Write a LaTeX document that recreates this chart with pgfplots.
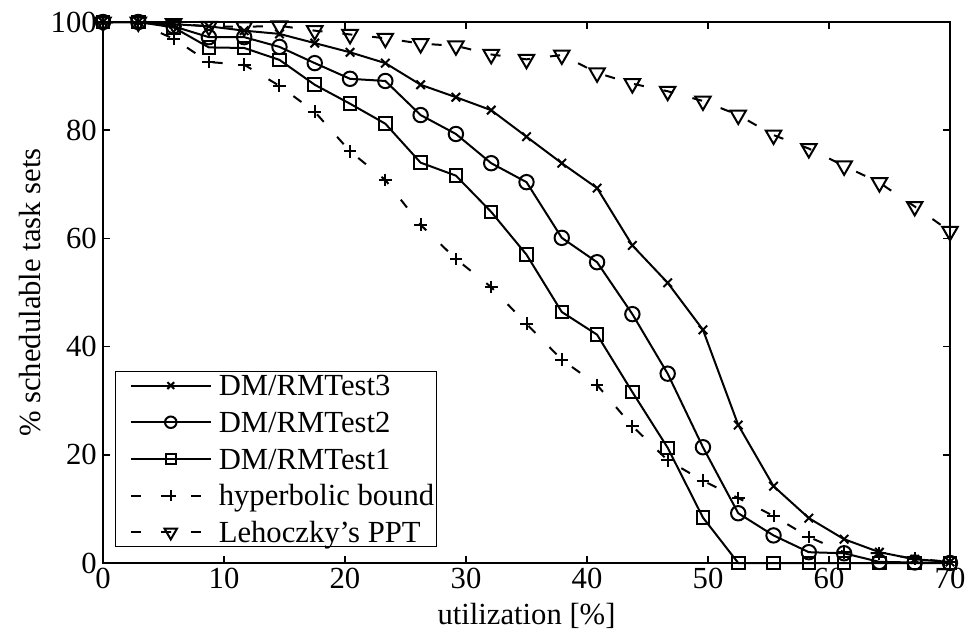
\documentclass[border=0pt]{standalone}
\usepackage{pgfplots}
\pgfplotsset{compat=1.18}
\usepackage{fontspec}
\setmainfont{Liberation Serif}
\begin{document}
\begin{tikzpicture}[font=\fontsize{23}{27.6}\selectfont]
\useasboundingbox (-77.25pt,-55.5pt) rectangle (647.25pt,422.25pt);
\begin{axis}[
  scale only axis, width=635.25pt, height=405.75pt,
  xmin=0, xmax=70, ymin=0, ymax=100,
  xtick={0,10,...,70}, ytick={0,20,...,100},
  tick align=inside, tick pos=both, major tick length=5.25pt,
  axis line style={line width=1.1pt}, every tick/.style={line width=1.1pt, black},
  /pgf/number format/assume math mode=true,
  yticklabel style={inner xsep=4.5pt},
  xlabel={utilization [\%]}, ylabel={\% schedulable task sets},
  xlabel style={at={(axis description cs:0.5,-0.098)}, anchor=center},
  ylabel style={at={(axis description cs:-0.0862,0.5)}, anchor=center},
  clip=false,
  legend cell align=left,
  legend style={at={(0.0142,0.0296)}, anchor=south west, draw=black, line width=1.1pt,
    inner xsep=1.5pt, inner ysep=1.5pt, row sep=9.5pt, column sep=5.25pt,
    nodes={inner sep=0pt, text height=16.6pt, text depth=1.4pt}},
  legend image code/.code={%
    \path[draw=none, fill=none] (0pt,0pt) (69.75pt,0pt);
    \draw[#1, mark repeat=2, mark phase=2, /tikz/every mark/.append style={scale=0.8}]
      plot coordinates {(9.75pt,0pt) (39.75pt,0pt) (69.75pt,0pt)};},
]
\addplot[black, line width=1.5pt, mark=x, mark size=4.5pt] coordinates {
(0,100) (2.9167,100) (5.8333,99.6) (8.75,99.2) (11.6667,98.4) (14.5833,97.8)
(17.5,96.1) (20.4167,94.4) (23.3333,92.4) (26.25,88.4) (29.1667,86.1) (32.0833,83.7)
(35,78.8) (37.9167,73.9) (40.8333,69.3) (43.75,58.7) (46.6667,51.8) (49.5833,43.1)
(52.5,25.5) (55.4167,14.2) (58.3333,8.3) (61.25,4.4) (64.1667,2.0) (67.0833,0.7) (70,0.2)};
\addlegendentry{DM/RMTest3}
\addplot[black, line width=1.5pt, mark=o, mark size=5.4pt] coordinates {
(0,100) (2.9167,100) (5.8333,99.2) (8.75,97.2) (11.6667,97.2) (14.5833,95.4)
(17.5,92.4) (20.4167,89.5) (23.3333,89.1) (26.25,82.8) (29.1667,79.3) (32.0833,73.9)
(35,70.4) (37.9167,60.1) (40.8333,55.6) (43.75,46.0) (46.6667,35.0) (49.5833,21.4)
(52.5,9.2) (55.4167,5.1) (58.3333,2.0) (61.25,1.8) (64.1667,0.2) (67.0833,0.1) (70,0)};
\addlegendentry{DM/RMTest2}
\addplot[black, line width=1.5pt, mark=square, mark size=4.7pt] coordinates {
(0,100) (2.9167,100) (5.8333,99.0) (8.75,95.3) (11.6667,95.2) (14.5833,93.0)
(17.5,88.4) (20.4167,84.9) (23.3333,81.2) (26.25,74.0) (29.1667,71.6) (32.0833,64.9)
(35,57.0) (37.9167,46.4) (40.8333,42.2) (43.75,31.6) (46.6667,21.3) (49.5833,8.4)
(52.5,0) (55.4167,0) (58.3333,0) (61.25,0) (64.1667,0) (67.0833,0) (70,0)};
\addlegendentry{DM/RMTest1}
\addplot[black, line width=1.5pt, dash pattern=on 7.5pt off 15pt, mark=+, mark size=4.8pt, mark options={solid}] coordinates {
(0,100) (2.9167,99.8) (5.8333,96.9) (8.75,92.6) (11.6667,92.1) (14.5833,88.2)
(17.5,83.4) (20.4167,76.1) (23.3333,70.8) (26.25,62.5) (29.1667,56.2) (32.0833,51.0)
(35,44.2) (37.9167,37.6) (40.8333,32.9) (43.75,25.3) (46.6667,19.0) (49.5833,15.2)
(52.5,12.0) (55.4167,8.7) (58.3333,4.8) (61.25,2.0) (64.1667,1.8) (67.0833,0.8) (70,0.2)};
\addlegendentry{hyperbolic bound}
\addplot[black, line width=1.5pt, dash pattern=on 7.5pt off 15pt, mark=triangle, mark size=6.7pt, mark options={solid, rotate=180}] coordinates {
(0,100) (2.9167,100) (5.8333,99.7) (8.75,99.2) (11.6667,99.1) (14.5833,99.3)
(17.5,98.4) (20.4167,97.7) (23.3333,97.0) (26.25,96.0) (29.1667,95.6) (32.0833,94.0)
(35,93.1) (37.9167,93.9) (40.8333,90.6) (43.75,88.6) (46.6667,87.2) (49.5833,85.4)
(52.5,82.8) (55.4167,79.1) (58.3333,76.6) (61.25,73.4) (64.1667,70.3) (67.0833,65.9) (70,61.3)};
\addlegendentry{Lehoczky's PPT}
\end{axis}
\end{tikzpicture}
\end{document}
